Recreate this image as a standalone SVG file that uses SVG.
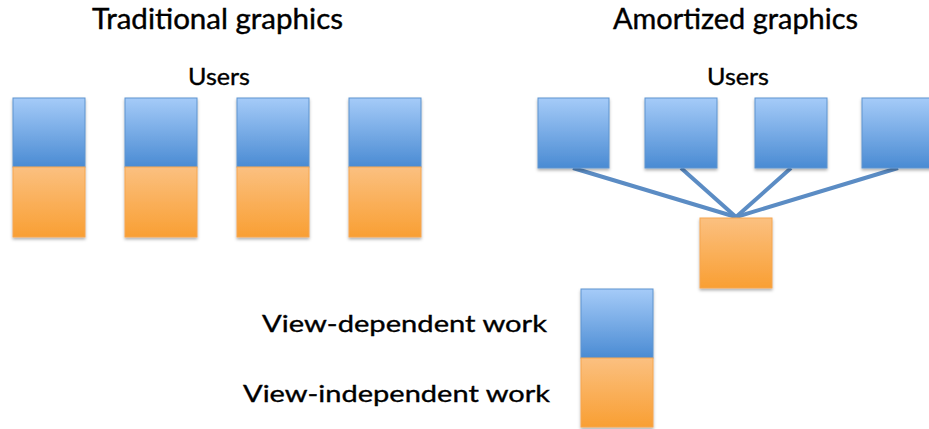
<svg xmlns="http://www.w3.org/2000/svg" width="929" height="429" viewBox="0 0 929 429">
  <defs>
    <linearGradient id="blueFill" x1="0" y1="0" x2="0" y2="1">
      <stop offset="0" stop-color="#a5cbf8"/>
      <stop offset="1" stop-color="#4a8bd3"/>
    </linearGradient>
    <linearGradient id="orangeFill" x1="0" y1="0" x2="0" y2="1">
      <stop offset="0" stop-color="#fbc080"/>
      <stop offset="1" stop-color="#f99f33"/>
    </linearGradient>
    <filter id="shadow" x="-20%" y="-20%" width="140%" height="150%">
      <feDropShadow dx="0" dy="2" stdDeviation="1.5" flood-color="#000" flood-opacity="0.3"/>
    </filter>
  </defs>
  <style>
    .blue { fill: url(#blueFill); stroke: #5f94cf; stroke-width: 1; }
    .orange { fill: url(#orangeFill); stroke: #f5a650; stroke-width: 1; }
    .title { font-family: Lato, "Open Sans", sans-serif; font-size: 28px; fill: #000; stroke: #000; stroke-width: 0.4; }
    .label { font-family: Lato, "Open Sans", sans-serif; font-size: 24px; fill: #000; stroke: #000; stroke-width: 0.35; }
    .link { stroke: #5b8cc4; stroke-width: 4; fill: none; }
  </style>
  <rect width="929" height="429" fill="#fff"/>

  <text class="title" x="92" y="29" textLength="251" lengthAdjust="spacingAndGlyphs">Traditional graphics</text>
  <text class="title" x="613" y="29" textLength="245" lengthAdjust="spacingAndGlyphs">Amortized graphics</text>
  <text class="label" x="188" y="85" textLength="62" lengthAdjust="spacingAndGlyphs">Users</text>
  <text class="label" x="707" y="85" textLength="62" lengthAdjust="spacingAndGlyphs">Users</text>

  <!-- traditional: each user does both kinds of work -->
  <g id="trad-1" filter="url(#shadow)">
    <rect class="blue" x="13" y="98" width="72" height="69"/>
    <rect class="orange" x="13" y="167" width="72" height="70"/>
  </g>
  <g id="trad-2" filter="url(#shadow)">
    <rect class="blue" x="125" y="98" width="72" height="69"/>
    <rect class="orange" x="125" y="167" width="72" height="70"/>
  </g>
  <g id="trad-3" filter="url(#shadow)">
    <rect class="blue" x="237" y="98" width="72" height="69"/>
    <rect class="orange" x="237" y="167" width="72" height="70"/>
  </g>
  <g id="trad-4" filter="url(#shadow)">
    <rect class="blue" x="349" y="98" width="72" height="69"/>
    <rect class="orange" x="349" y="167" width="72" height="70"/>
  </g>

  <!-- amortized: shared view-independent work -->
  <g id="connectors">
    <line class="link" x1="573" y1="168" x2="736" y2="217"/>
    <line class="link" x1="681" y1="168" x2="736" y2="217"/>
    <line class="link" x1="791" y1="168" x2="736" y2="217"/>
    <line class="link" x1="898" y1="168" x2="736" y2="217"/>
  </g>
  <g id="user-1" filter="url(#shadow)"><rect class="blue" x="538" y="98" width="71" height="70"/></g>
  <g id="user-2" filter="url(#shadow)"><rect class="blue" x="645" y="98" width="72" height="70"/></g>
  <g id="user-3" filter="url(#shadow)"><rect class="blue" x="755" y="98" width="72" height="70"/></g>
  <g id="user-4" filter="url(#shadow)"><rect class="blue" x="862" y="98" width="72" height="70"/></g>
  <g id="shared" filter="url(#shadow)"><rect class="orange" x="700" y="218" width="72" height="70"/></g>

  <!-- legend -->
  <g id="legend">
    <g filter="url(#shadow)">
      <rect class="blue" x="581" y="289" width="72" height="69"/>
      <rect class="orange" x="581" y="358" width="72" height="69"/>
    </g>
    <text class="label" x="262" y="332" textLength="285" lengthAdjust="spacingAndGlyphs">View-dependent work</text>
    <text class="label" x="243" y="402" textLength="307" lengthAdjust="spacingAndGlyphs">View-independent work</text>
  </g>
</svg>
